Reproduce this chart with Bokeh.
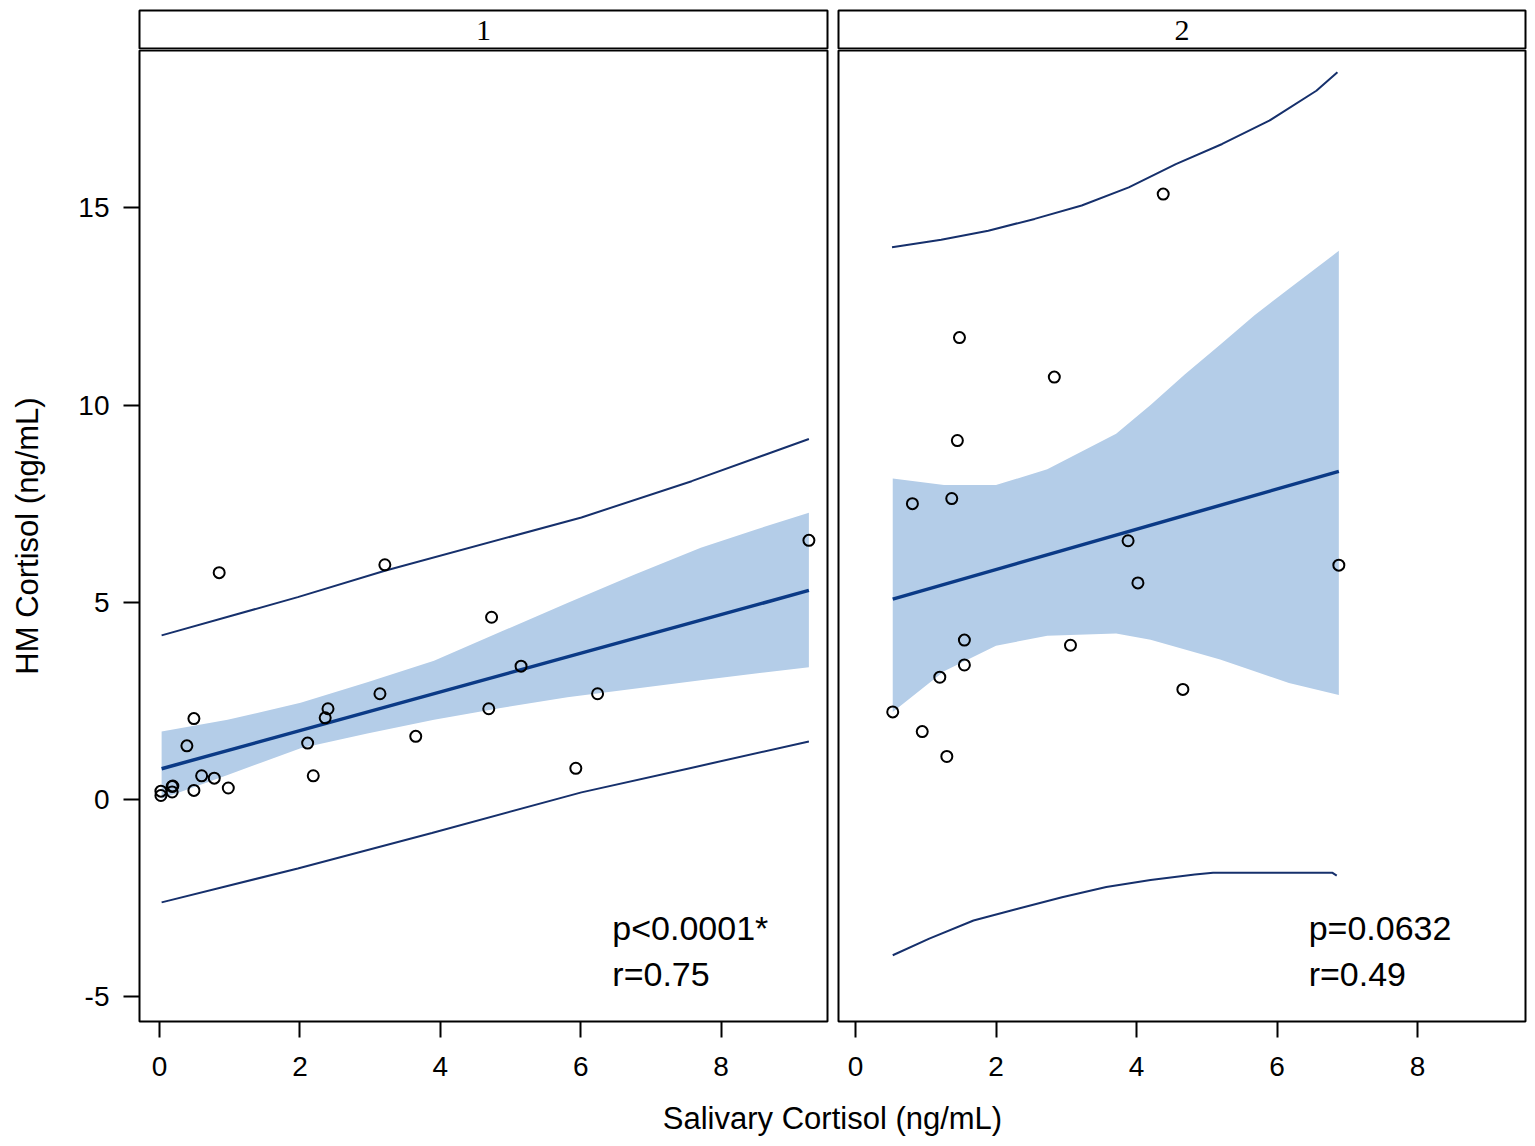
from bokeh.plotting import figure
from bokeh.layouts import column, row
from bokeh.models import Range1d, Label, FixedTicker
from bokeh.embed import file_html
from bokeh.resources import INLINE

# ---------------- data ----------------
panel_titles = ["1", "2"]
x_ticks = [0, 2, 4, 6, 8]
y_ticks = [-5, 0, 5, 10, 15]
y_tick_labels = {-5: "-5", 0: "0", 5: "5", 10: "10", 15: "15"}

# panel 1 observations
g1_x = [0.85, 3.21, 9.25, 4.73, 5.15, 6.24, 3.14, 4.69, 2.40, 2.36, 0.49, 3.65, 2.11,
        0.39, 5.93, 2.19, 0.60, 0.78, 0.98, 0.49, 0.19, 0.02, 0.02, 0.18, 0.18]
g1_y = [5.75, 5.95, 6.57, 4.62, 3.38, 2.68, 2.68, 2.30, 2.30, 2.07, 2.05, 1.60, 1.43,
        1.36, 0.79, 0.60, 0.60, 0.54, 0.29, 0.23, 0.34, 0.21, 0.10, 0.33, 0.19]
# panel 1 fit
g1_fit_x = [0.03, 9.25]
g1_fit_y = [0.78, 5.30]
# panel 1 confidence band
g1_band_x = [0.03, 0.97, 2.01, 2.96, 3.91, 4.86, 5.81, 6.76, 7.71, 8.52, 9.25]
g1_band_lo = [0.02, 0.62, 1.30, 1.67, 2.02, 2.32, 2.59, 2.81, 3.02, 3.20, 3.35]
g1_band_hi = [1.72, 2.02, 2.45, 2.97, 3.52, 4.25, 4.98, 5.70, 6.38, 6.86, 7.27]
# panel 1 prediction limits
g1_pu_x = [0.03, 1.97, 3.21, 6.01, 7.58, 9.25]
g1_pu_y = [4.16, 5.13, 5.80, 7.15, 8.07, 9.14]
g1_pl_x = [0.03, 1.97, 3.88, 6.01, 7.57, 9.25]
g1_pl_y = [-2.61, -1.75, -0.85, 0.18, 0.80, 1.47]

# panel 2 observations
g2_x = [4.38, 1.48, 2.83, 1.45, 0.81, 1.37, 3.88, 6.88, 4.02, 1.55, 3.06, 1.55, 1.20,
        4.66, 0.53, 0.95, 1.30]
g2_y = [15.35, 11.71, 10.71, 9.10, 7.50, 7.63, 6.56, 5.94, 5.49, 4.04, 3.91, 3.41, 3.10,
        2.79, 2.22, 1.72, 1.09]
# panel 2 fit
g2_fit_x = [0.53, 6.88]
g2_fit_y = [5.08, 8.32]
# panel 2 confidence band
g2_band_x = [0.53, 1.26, 2.00, 2.73, 3.71, 4.20, 4.69, 5.19, 5.68, 6.17, 6.88]
g2_band_lo = [2.22, 3.25, 3.90, 4.15, 4.21, 4.05, 3.80, 3.55, 3.25, 2.95, 2.65]
g2_band_hi = [8.14, 7.97, 7.97, 8.37, 9.27, 10.00, 10.78, 11.53, 12.28, 12.95, 13.91]
# panel 2 prediction limits
g2_pu_x = [0.52, 1.22, 1.89, 2.55, 3.22, 3.89, 4.56, 5.22, 5.89, 6.56, 6.86]
g2_pu_y = [14.00, 14.19, 14.42, 14.72, 15.06, 15.52, 16.11, 16.62, 17.21, 17.97, 18.44]
g2_pl_x = [0.53, 1.05, 1.68, 2.31, 2.94, 3.57, 4.20, 4.83, 5.09, 6.10, 6.79, 6.85]
g2_pl_y = [-3.95, -3.53, -3.07, -2.77, -2.48, -2.22, -2.04, -1.90, -1.86, -1.86, -1.86, -1.93]

stats = [("p<0.0001*", "r=0.75"), ("p=0.0632", "r=0.49")]

# ---------------- style ----------------
FONT = "Liberation Sans"
BAND = "#b4cde8"
FIT = "#0b3a86"
PRED = "#16306c"

FW1, FW2, FH = 688, 687, 971
BL1, BR1, BL2, BR2 = 139, 5, 6, 2


def header(text, fw, bl, br):
    h = figure(frame_width=fw, frame_height=39, x_range=Range1d(0, 1), y_range=Range1d(0, 1),
               x_axis_location=None, y_axis_location=None, toolbar_location=None,
               output_backend="svg", min_border_left=bl, min_border_right=br,
               min_border_top=10, min_border_bottom=0)
    h.grid.visible = False
    h.outline_line_color = "black"
    h.outline_line_width = 2
    h.add_layout(Label(x=0.5, y=0.49, text=text, text_align="center", text_baseline="middle",
                       text_font="Liberation Serif", text_font_size="30px", text_color="black"))
    return h


def panel(xs, ys, fx, fy, bx, blo, bhi, pux, puy, plx, ply, st, fw, bl, br, xr, with_y):
    p = figure(frame_width=fw, frame_height=FH, x_range=Range1d(*xr), y_range=Range1d(-5.63, 18.99),
               y_axis_location="left" if with_y else None, toolbar_location=None,
               output_backend="svg", min_border_left=bl, min_border_right=br,
               min_border_top=1, min_border_bottom=70)
    p.grid.visible = False
    p.outline_line_color = "black"
    p.outline_line_width = 2
    p.varea(x=bx, y1=blo, y2=bhi, fill_color=BAND, fill_alpha=1.0)
    p.line(pux, puy, line_color=PRED, line_width=2)
    p.line(plx, ply, line_color=PRED, line_width=2)
    p.line(fx, fy, line_color=FIT, line_width=3.5)
    p.scatter(xs, ys, marker="circle", size=11, fill_color=None, line_color="black", line_width=2)
    axes = [p.xaxis[0]] + ([p.yaxis[0]] if with_y else [])
    for ax in axes:
        ax.axis_line_color = None
        ax.major_tick_out = 16
        ax.major_tick_in = 0
        ax.major_tick_line_width = 2
        ax.major_tick_line_color = "black"
        ax.minor_tick_line_color = None
        ax.major_label_text_font = FONT
        ax.major_label_text_font_size = "28px"
        ax.major_label_text_color = "black"
        ax.major_label_standoff = 14
    p.xaxis.ticker = FixedTicker(ticks=x_ticks)
    p.xaxis.major_label_standoff = 19
    if with_y:
        p.yaxis.ticker = FixedTicker(ticks=y_ticks)
        p.yaxis.major_label_overrides = y_tick_labels
        p.yaxis.axis_label = "HM Cortisol (ng/mL)"
        p.yaxis.axis_label_text_font = FONT
        p.yaxis.axis_label_text_font_size = "31px"
        p.yaxis.axis_label_text_font_style = "normal"
        p.yaxis.axis_label_text_color = "black"
        p.yaxis.axis_label_standoff = 30
    p.add_layout(Label(x=6.45, y=-3.26, text=st[0], text_font=FONT, text_font_size="34px",
                       text_color="black", text_baseline="middle"))
    p.add_layout(Label(x=6.45, y=-4.42, text=st[1], text_font=FONT, text_font_size="34px",
                       text_color="black", text_baseline="middle"))
    return p


h1 = header(panel_titles[0], FW1, BL1, BR1)
h2 = header(panel_titles[1], FW2, BL2, BR2)
p1 = panel(g1_x, g1_y, g1_fit_x, g1_fit_y, g1_band_x, g1_band_lo, g1_band_hi,
           g1_pu_x, g1_pu_y, g1_pl_x, g1_pl_y, stats[0], FW1, BL1, BR1, (-0.285, 9.515), True)
p2 = panel(g2_x, g2_y, g2_fit_x, g2_fit_y, g2_band_x, g2_band_lo, g2_band_hi,
           g2_pu_x, g2_pu_y, g2_pl_x, g2_pl_y, stats[1], FW2, BL2, BR2, (-0.242, 9.537), False)

bottom = figure(frame_width=FW1 + BR1 + BL2 + FW2, frame_height=50, x_range=Range1d(0, 1),
                y_range=Range1d(0, 1), x_axis_location=None, y_axis_location=None,
                toolbar_location=None, output_backend="svg", min_border_left=BL1,
                min_border_right=BR2, min_border_top=0, min_border_bottom=0)
bottom.grid.visible = False
bottom.outline_line_color = None
bottom.add_layout(Label(x=0.5, y=0.46, text="Salivary Cortisol (ng/mL)", text_align="center",
                        text_baseline="middle", text_font=FONT, text_font_size="31px",
                        text_color="black"))

layout = column(row(h1, h2), row(p1, p2), bottom)

open("out.html", "w").write(file_html(layout, INLINE))
